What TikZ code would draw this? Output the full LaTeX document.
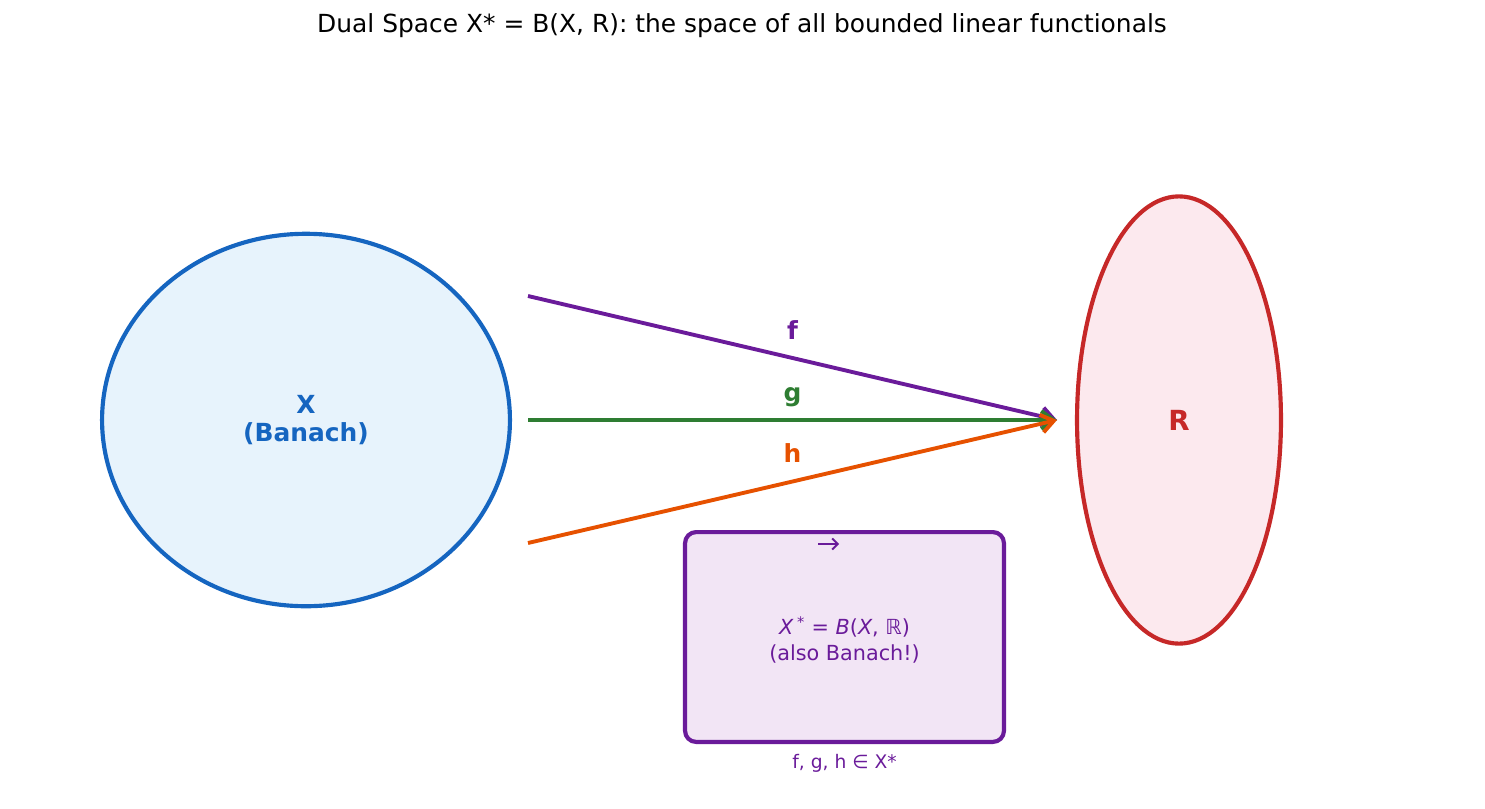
\documentclass[tikz,border=0pt]{standalone}
\usepackage{fontspec}
\setmainfont{DejaVu Sans}
\usetikzlibrary{shapes.geometric,arrows.meta}
\definecolor{spaceblue}{HTML}{1565C0}
\definecolor{spacefill}{HTML}{E7F3FC}
\definecolor{realred}{HTML}{C62828}
\definecolor{realfill}{HTML}{FCE9EE}
\definecolor{fpurple}{HTML}{6A1B9A}
\definecolor{dualfill}{HTML}{F2E5F5}
\definecolor{ggreen}{HTML}{2E7D32}
\definecolor{horange}{HTML}{E65100}

\begin{document}
\begin{tikzpicture}[x=0.254mm,y=-0.254mm,
    func/.style={line width=2.8pt,-{Straight Barb[length=9pt,width=13pt]}},
    funlabel/.style={font=\fontsize{18}{21}\selectfont\bfseries}]
\useasboundingbox (0,0) rectangle (1485,808);
\node (title) at (742,26) {\fontsize{18}{21}\selectfont Dual Space X* = B(X, R): the space of all bounded linear functionals};

\node[ellipse,draw=spaceblue,fill=spacefill,line width=3pt,minimum width=103.6mm,minimum height=94.6mm,
      text=spaceblue,align=center,font=\fontsize{18}{20}\selectfont\bfseries] (X) at (306,420) {X\\(Banach)};
\node[ellipse,draw=realred,fill=realfill,line width=3pt,minimum width=51.8mm,minimum height=113.6mm,
      text=realred,font=\fontsize{20}{22}\selectfont\bfseries] (R) at (1179,420) {R};

\coordinate (fstart) at (528,296);
\coordinate (gstart) at (528,420);
\coordinate (hstart) at (528,543);
\coordinate (tip) at (1057,420);

\draw[func,fpurple] (fstart) -- node[funlabel,above=9pt] (flabel) {f} (tip);
\draw[func,ggreen] (gstart) -- node[funlabel,above=5pt] (glabel) {g} (tip);
\draw[func,horange] (hstart) -- node[funlabel,above=9pt] (hlabel) {h} (tip);

\node[draw=fpurple,fill=dualfill,line width=3pt,rounded corners=8pt,minimum width=81mm,minimum height=53.3mm] (dual) at (844.5,637) {};
\node[text=fpurple,align=center,font=\fontsize{15}{18.5}\selectfont] (dualtext) at (844.5,640)
      {\textit{X}\,\textsuperscript{*} = \textit{B}(\textit{X}, ℝ)\\(also Banach!)};
\coordinate (vecl) at (818,544);
\coordinate (vecr) at (839,544);
\draw[fpurple,line width=1.4pt,-{Straight Barb[length=4pt,width=8pt]}] (vecl) -- (vecr);

\node[text=fpurple,font=\fontsize{13.5}{15}\selectfont,below=4pt] (members) at (dual.south) {f, g, h ∈ X*};
\end{tikzpicture}
\end{document}
